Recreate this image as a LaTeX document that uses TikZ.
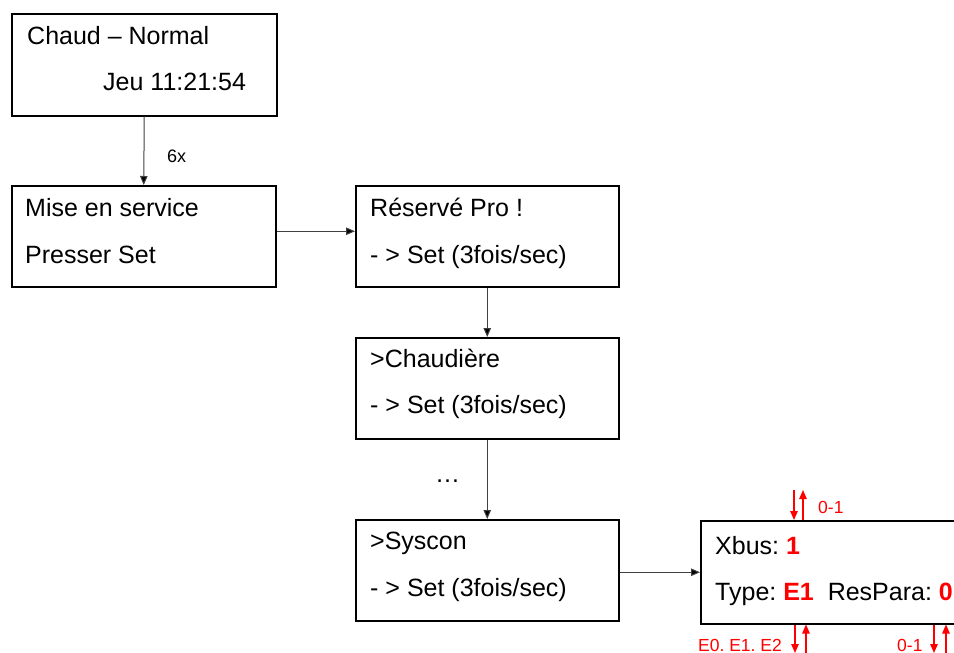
\documentclass[tikz,border=0pt]{standalone}
\usepackage{fontspec}
\setmainfont{Liberation Sans}
\usetikzlibrary{arrows.meta}
\definecolor{lineg}{RGB}{64,64,64}
\definecolor{myred}{RGB}{255,0,0}
\frenchspacing
\begin{document}
\begin{tikzpicture}[x=1pt,y=-1pt,
  box/.style={draw=black, line width=1.5pt, inner sep=0pt, anchor=north west},
  txt/.style={anchor=base west, inner sep=0pt, font=\fontsize{25}{30}\selectfont},
  lbl/.style={anchor=base west, inner sep=0pt, font=\fontsize{18}{22}\selectfont},
  rlbl/.style={anchor=base west, inner sep=0pt, text=myred, font=\fontsize{17.5}{21}\selectfont},
  conn/.style={draw=lineg, line width=1pt, -{Triangle[length=9pt,width=7.5pt,fill=black]}},
  rarr/.style={draw=myred, line width=1.2pt, -{Triangle[length=9pt,width=7.5pt]}},
  rv/.style={text=myred, font=\bfseries}
]
\useasboundingbox (0,0) rectangle (954,653);
\clip (0,0) rectangle (954,653);

% boxes
\node[box, minimum width=265pt, minimum height=102pt] (b1) at (11,13) {};
\node[box, minimum width=264pt, minimum height=101pt] (b2) at (11,185) {};
\node[box, minimum width=263pt, minimum height=101pt] (b3) at (355,185) {};
\node[box, minimum width=263pt, minimum height=101pt] (b4) at (355,337) {};
\node[box, minimum width=263pt, minimum height=101pt] (b5) at (355,519) {};
\node[box, minimum width=330pt, minimum height=103pt] (b6) at (700,520) {};

% texts
\node[txt] (t1a) at (27,44) {Chaud – Normal};
\node[txt] (t1b) at (103,90) {Jeu 11:21:54};
\node[txt] (t2a) at (25,216) {Mise en service};
\node[txt] (t2b) at (25,263) {Presser Set};
\node[txt] (t3a) at (370,216) {Réservé Pro !};
\node[txt] (t3b) at (370,263) {- > Set (3fois/sec)};
\node[txt] (t4a) at (370,367) {>Chaudière};
\node[txt] (t4b) at (370,413) {- > Set (3fois/sec)};
\node[txt] (t5a) at (370,549) {>Syscon};
\node[txt] (t5b) at (370,596) {- > Set (3fois/sec)};
\node[txt] (t6a) at (715,554) {Xbus: {\bfseries\color{myred}1}};
\node[txt] (t6b) at (715,600) {Type: {\bfseries\color{myred}E1}\ \ ResPara: {\bfseries\color{myred}0}};

\node[lbl] (l6x) at (167,162) {6x};
\node[txt] (dots) at (435,482) {…};

% connectors
\draw[conn] (b1.south) -- (b2.north);
\draw[conn] ([yshift=5pt]b2.east) -- ([yshift=5pt]b3.west);
\draw[conn] (b3.south) -- (b4.north);
\draw[conn] (b4.south) -- (b5.north);
\draw[conn] (b5.east |- b6.west) -- (b6.west);

% red arrows
\coordinate (ta) at (794,490);
\coordinate (tb) at (803,490);
\draw[rarr] (ta) -- (ta |- b6.north);
\draw[rarr] (tb |- b6.north) -- (tb);
\node[rlbl] (r1) at (818,513) {0-1};

\coordinate (ba) at (795,653);
\coordinate (bb) at (806,660);
\draw[rarr] (ba |- b6.south) -- (ba);
\draw[rarr] (bb) -- (bb |- b6.south);
\node[rlbl] (r2) at (698,651) {E0. E1. E2};

\coordinate (ca) at (934,653);
\coordinate (cb) at (946,660);
\draw[rarr] (ca |- b6.south) -- (ca);
\draw[rarr] (cb) -- (cb |- b6.south);
\node[rlbl] (r3) at (897,651) {0-1};
\end{tikzpicture}
\end{document}
